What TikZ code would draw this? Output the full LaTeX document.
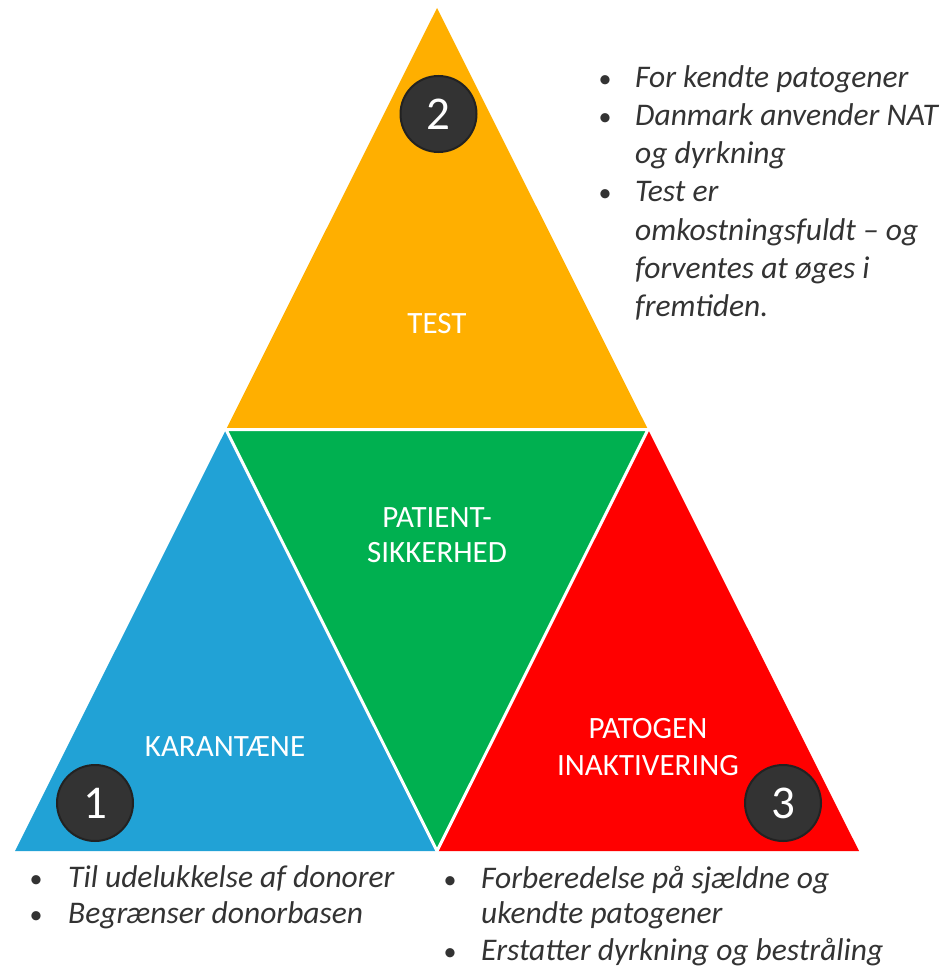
\documentclass[tikz,border=0pt]{standalone}
\usepackage{fontspec}
\setmainfont{Carlito}
\definecolor{torange}{HTML}{FFAF00}
\definecolor{tgreen}{HTML}{00B050}
\definecolor{tblue}{HTML}{21A2D6}
\definecolor{tred}{HTML}{FF0000}
\definecolor{tdark}{HTML}{333333}
\definecolor{tring}{HTML}{222222}
\begin{document}
\begin{tikzpicture}[x=1pt,y=-1pt,
  lab/.style={text=white,font=\fontsize{31}{36}\selectfont,inner sep=0pt,anchor=base},
  num/.style={circle,fill=tdark,draw=tring,line width=2pt,minimum size=76pt,inner sep=0pt,text=white,font=\fontsize{47}{47}\selectfont},
  txt/.style={text=tdark,font=\fontsize{31.5}{37}\selectfont\itshape,inner sep=0pt,anchor=base west},
  bul/.style={text=tdark,font=\fontsize{26}{37}\selectfont,inner sep=0pt,anchor=base}]
\useasboundingbox (0,0) rectangle (942,971);
% vertices
\coordinate (A) at (437,8);
\coordinate (L) at (15,851);
\coordinate (R) at (859,851);
\coordinate (ML) at (226,429.5);
\coordinate (MR) at (648,429.5);
\coordinate (MB) at (437,851);
\fill[torange] (A) -- (ML) -- (MR) -- cycle;
\fill[tgreen] (ML) -- (MR) -- (MB) -- cycle;
\fill[tblue] (ML) -- (L) -- (MB) -- cycle;
\fill[tred] (MR) -- (MB) -- (R) -- cycle;
\draw[white,line width=3pt] (ML) -- (MR) -- (MB) -- cycle;
% labels
\node[lab] (test) at (437,333) {TEST};
\node[lab] (pat1) at (437,527) {PATIENT-};
\node[lab] (pat2) at (437,562) {SIKKERHED};
\node[lab] (kar) at (225,756) {KARANTÆNE};
\node[lab] (pi1) at (648,738) {PATOGEN};
\node[lab] (pi2) at (648,775) {INAKTIVERING};
% number circles
\node[num] (n2) at (438.5,114) {2};
\node[num] (n1) at (95,803) {1};
\node[num] (n3) at (783,803) {3};
% top-right list
\node[bul] (b1) at (605,88) {•};
\node[txt] (t1) at (635,88) {For kendte patogener};
\node[bul] (b2) at (605,125) {•};
\node[txt] (t2) at (635,125) {Danmark anvender NAT};
\node[txt] (t3) at (635,163) {og dyrkning};
\node[bul] (b3) at (605,201) {•};
\node[txt] (t4) at (635,201) {Test er};
\node[txt] (t5) at (635,240) {omkostningsfuldt – og};
\node[txt] (t6) at (635,278) {forventes at øges i};
\node[txt] (t7) at (635,316) {fremtiden.};
% bottom-left list
\node[bul] (b4) at (36,887) {•};
\node[txt] (t8) at (68,887) {Til udelukkelse af donorer};
\node[bul] (b5) at (36,923) {•};
\node[txt] (t9) at (68,923) {Begrænser donorbasen};
% bottom-right list
\node[bul] (b6) at (450,888) {•};
\node[txt] (t10) at (481,888) {Forberedelse på sjældne og};
\node[txt] (t11) at (481,923) {ukendte patogener};
\node[bul] (b7) at (450,960) {•};
\node[txt] (t12) at (481,960) {Erstatter dyrkning og bestråling};
\end{tikzpicture}
\end{document}
